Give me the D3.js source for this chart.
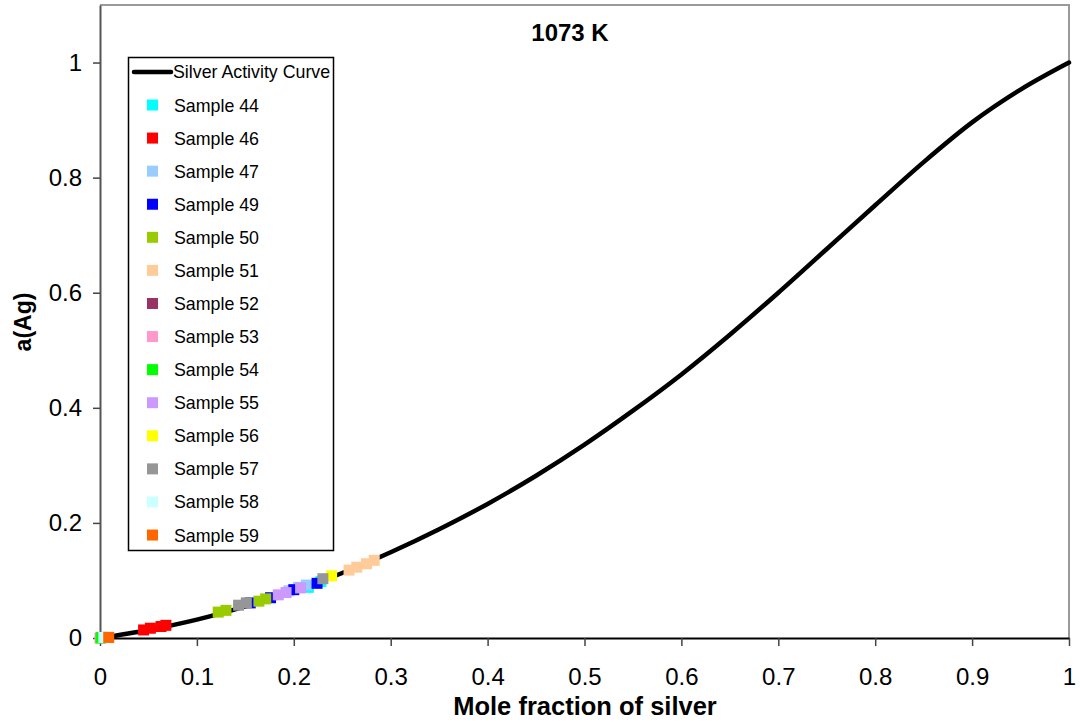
<!DOCTYPE html>
<html>
<head>
<meta charset="utf-8">
<script src="https://cdn.jsdelivr.net/npm/d3@7/dist/d3.min.js"></script>
<style>
  html, body { margin: 0; padding: 0; background: #fff; }
  svg { display: block; font-family: "Liberation Sans", Arial, sans-serif; }
</style>
</head>
<body>
<svg id="chart" width="1080" height="725"></svg>
<script>
// Silver activity curve at 1073 K (mole fraction -> activity)
const curveX = [0, 0.05, 0.1, 0.15, 0.2, 0.25, 0.3, 0.35, 0.4, 0.45, 0.5, 0.55, 0.6, 0.65, 0.7, 0.75, 0.8, 0.85, 0.9, 0.95, 1.0];
const curveY = [0, 0.014, 0.032, 0.055, 0.082, 0.113, 0.149, 0.189, 0.233, 0.282, 0.336, 0.395, 0.458, 0.527, 0.6, 0.676, 0.752, 0.827, 0.896, 0.953, 1.0];

// Measured samples
const sampleNames = ["Sample 44", "Sample 46", "Sample 47", "Sample 49", "Sample 50", "Sample 51", "Sample 52",
                     "Sample 53", "Sample 54", "Sample 55", "Sample 56", "Sample 57", "Sample 58", "Sample 59"];
const sampleColors = ["#00FFFF", "#FF0000", "#99CCFF", "#0000FF", "#99CC00", "#FFCC99", "#993366",
                      "#FF99CC", "#00FF00", "#CC99FF", "#FFFF00", "#969696", "#CCFFFF", "#FF6600"];
const sampleX = [
  [0.005, 0.215, 0.228],
  [0.045, 0.052, 0.063, 0.068],
  [0.008, 0.195, 0.205, 0.213],
  [0.155, 0.176, 0.200, 0.224],
  [0.122, 0.130, 0.164, 0.171],
  [0.257, 0.265, 0.275, 0.283],
  [0.002],
  [0.000],
  [0.001],
  [0.184, 0.192, 0.207],
  [0.239],
  [0.143, 0.151, 0.230],
  [0.004],
  [0.009]
];
const sampleY = [
  [0.001, 0.088, 0.098],
  [0.014, 0.017, 0.020, 0.022],
  [0.001, 0.082, 0.088, 0.092],
  [0.061, 0.070, 0.084, 0.095],
  [0.045, 0.048, 0.064, 0.068],
  [0.118, 0.123, 0.129, 0.135],
  [0.001],
  [0.000],
  [0.000],
  [0.075, 0.079, 0.087],
  [0.108],
  [0.057, 0.061, 0.103],
  [0.001],
  [0.001]
];

const xTicks = [0, 0.1, 0.2, 0.3, 0.4, 0.5, 0.6, 0.7, 0.8, 0.9, 1];
const yTicks = [0, 0.2, 0.4, 0.6, 0.8, 1];

const titleText = "1073 K";
const xTitle = "Mole fraction of silver";
const yTitle = "a(Ag)";
const curveName = "Silver Activity Curve";

const svg = d3.select("#chart");
const plot = { left: 100, right: 1069, top: 5, bottom: 638 };

const x = d3.scaleLinear().domain([0, 1]).range([plot.left, plot.right]);
const y = d3.scaleLinear().domain([0, 1.1]).range([plot.bottom, plot.top]);

// plot frame (top and right edges)
svg.append("path")
  .attr("d", `M${plot.left},${plot.top}H${plot.right}V${plot.bottom}`)
  .attr("fill", "none").attr("stroke", "#9a9a9a").attr("stroke-width", 2);

// axes
const xAxis = svg.append("g").attr("transform", `translate(0,${plot.bottom})`)
  .call(d3.axisBottom(x).tickValues(xTicks).tickFormat(d3.format("~g")).tickSize(8).tickSizeOuter(0));
xAxis.select(".domain").attr("stroke", "#000").attr("stroke-width", 2);
xAxis.selectAll(".tick line").attr("stroke", "#444").attr("stroke-width", 1.5);
xAxis.selectAll("text").attr("font-size", 24).attr("fill", "#000").attr("y", 47).attr("dy", 0);

const yAxis = svg.append("g").attr("transform", `translate(${plot.left},0)`)
  .call(d3.axisLeft(y).tickValues(yTicks).tickFormat(d3.format("~g")).tickSize(7).tickSizeOuter(0));
yAxis.select(".domain").attr("stroke", "#555").attr("stroke-width", 2);
yAxis.selectAll(".tick line").attr("stroke", "#444").attr("stroke-width", 1.5);
yAxis.selectAll("text").attr("font-size", 24).attr("fill", "#000").attr("x", -18);

// curve
const line = d3.line().x(d => x(d[0])).y(d => y(d[1])).curve(d3.curveMonotoneX);
const curvePts = curveX.map((v, i) => [v, curveY[i]]);
svg.append("path").datum(curvePts)
  .attr("d", line).attr("fill", "none").attr("stroke", "#000").attr("stroke-width", 4.5)
  .attr("stroke-linecap", "round");

// sample markers, drawn in series order
const ms = 11;
sampleNames.forEach((name, i) => {
  const pts = sampleX[i].map((v, j) => [v, sampleY[i][j]]);
  svg.append("g").selectAll("rect").data(pts).join("rect")
    .attr("x", d => x(d[0]) - ms / 2).attr("y", d => y(d[1]) - ms / 2)
    .attr("width", ms).attr("height", ms)
    .attr("fill", sampleColors[i]);
});

// title and axis titles
svg.append("text").attr("x", 570).attr("y", 41).attr("text-anchor", "middle")
  .attr("font-size", 24).attr("font-weight", "bold").text(titleText);
svg.append("text").attr("x", 585).attr("y", 715).attr("text-anchor", "middle")
  .attr("font-size", 25.5).attr("font-weight", "bold").text(xTitle);
svg.append("text").attr("transform", "translate(31,322) rotate(-90)").attr("text-anchor", "middle")
  .attr("font-size", 23).attr("font-weight", "bold").text(yTitle);

// legend
const lg = svg.append("g");
lg.append("rect").attr("x", 128.5).attr("y", 57.5).attr("width", 205).attr("height", 493)
  .attr("fill", "#fff").attr("stroke", "#000").attr("stroke-width", 1.5);
lg.append("line").attr("x1", 134).attr("x2", 171).attr("y1", 72).attr("y2", 72)
  .attr("stroke", "#000").attr("stroke-width", 4.5).attr("stroke-linecap", "round");
lg.append("text").attr("x", 173).attr("y", 78).attr("font-size", 17.8).text(curveName);
sampleNames.forEach((name, i) => {
  const cy = 105 + i * 33.08;
  lg.append("rect").attr("x", 147).attr("y", cy - 5.5).attr("width", 11).attr("height", 11)
    .attr("fill", sampleColors[i]);
  lg.append("text").attr("x", 174).attr("y", cy + 6.5).attr("font-size", 17.8).text(name);
});
</script>
</body>
</html>
